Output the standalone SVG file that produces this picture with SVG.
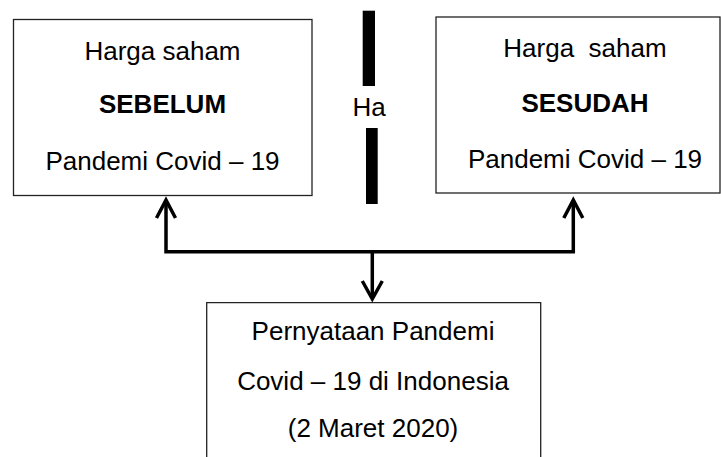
<svg xmlns="http://www.w3.org/2000/svg" width="721" height="457" viewBox="0 0 721 457">
<style>
.box{fill:#fff;stroke:#222;stroke-width:1.3}
.t{font-family:"Liberation Sans",Arial,sans-serif;font-size:26px;fill:#000;text-anchor:middle;white-space:pre}
.b{font-weight:bold}
.c{fill:none;stroke:#000;stroke-width:3.5;stroke-linecap:butt;stroke-linejoin:miter}
</style>
<g id="node-sebelum">
<rect class="box" x="13.5" y="19.5" width="298.5" height="176"/>
<text class="t" x="162.5" y="60">Harga saham</text>
<text class="t b" x="162.5" y="113">SEBELUM</text>
<text class="t" x="162.5" y="170">Pandemi Covid – 19</text>
</g>
<g id="node-sesudah">
<rect class="box" x="436" y="17" width="284" height="176"/>
<text class="t" x="585" y="57" xml:space="preserve">Harga  saham</text>
<text class="t b" x="585" y="112">SESUDAH</text>
<text class="t" x="585" y="168">Pandemi Covid – 19</text>
</g>
<g id="node-ha">
<rect x="362.7" y="10.7" width="12.3" height="75.3" fill="#000"/>
<rect x="366" y="128" width="11.7" height="76" fill="#000"/>
<text class="t" x="369" y="116">Ha</text>
</g>
<g id="node-pernyataan">
<path class="box" d="M206.7 458 V302.7 H540.7 V458"/>
<text class="t" x="373" y="340">Pernyataan Pandemi</text>
<text class="t" x="373" y="390">Covid – 19 di Indonesia</text>
<text class="t" x="373" y="437">(2 Maret 2020)</text>
</g>
<g id="connectors">
<path class="c" d="M166 200 V251.7 H573.3 V200"/>
<path class="c" d="M372.3 251.7 V298"/>
<path class="c" d="M156.5 218 L166 200 L175.5 218"/>
<path class="c" d="M563.8 218 L573.3 200 L582.8 218"/>
<path class="c" d="M362.3 281 L372.3 299 L382.3 281"/>
</g>
</svg>
